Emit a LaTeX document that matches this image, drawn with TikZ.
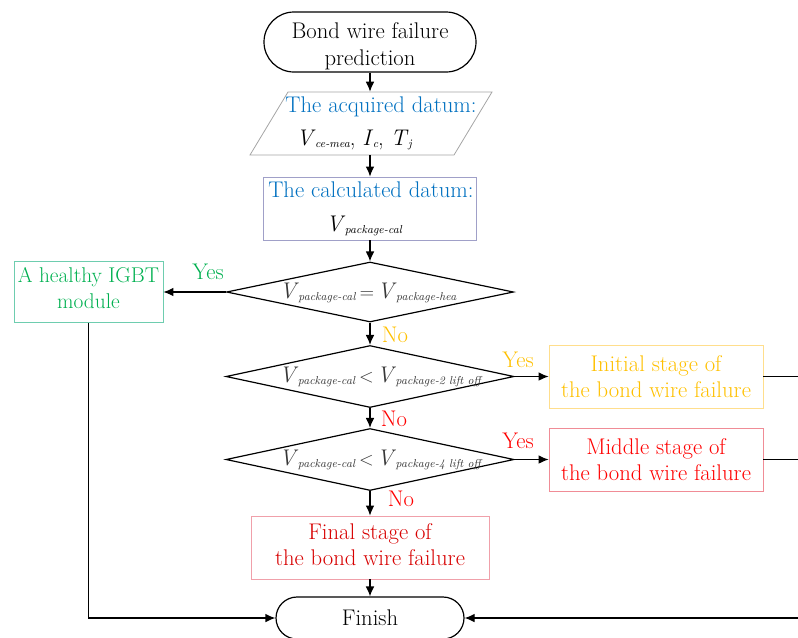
\documentclass[tikz,border=0pt]{standalone}
\usepackage{amsmath}
\usetikzlibrary{arrows.meta,shapes.geometric,shapes.misc}
\definecolor{cblue}{RGB}{0,112,192}
\definecolor{cgreen}{RGB}{0,176,80}
\definecolor{corange}{RGB}{255,192,0}
\definecolor{cred}{RGB}{255,0,0}
\definecolor{cdred}{RGB}{215,0,0}
\definecolor{cgray}{RGB}{165,165,165}
\definecolor{cpurp}{RGB}{160,160,200}
\definecolor{cteal}{RGB}{110,205,175}
\definecolor{corb}{RGB}{255,222,140}
\definecolor{credb}{RGB}{240,140,150}
\definecolor{cpinkb}{RGB}{240,160,170}
\definecolor{ctxt}{RGB}{55,55,55}
\newcommand{\vsub}[2]{\textit{#1}\kern-0.5pt\raisebox{-0.25ex}{\fontsize{8.6}{9}\selectfont\itshape #2}}
\newcommand{\rel}[1]{\hspace{3pt}{\fontsize{14}{16}\selectfont$#1$}\hspace{2.5pt}}
\begin{document}
\begin{tikzpicture}[x=0.75pt,y=-0.75pt,
  font=\fontsize{17}{19}\selectfont,
  arr/.style={-{Latex[length=7.5pt,width=6.5pt]},line width=0.9pt},
  ln/.style={line width=0.9pt},
  term/.style={rounded rectangle,draw,line width=0.9pt,inner sep=0pt,align=center},
  box/.style={rectangle,draw,line width=0.6pt,inner sep=0pt,align=center},
  dia/.style={diamond,draw,line width=0.9pt,inner sep=0pt,aspect=4.8},
  txt/.style={inner sep=0pt,align=center},
  formula/.style={text=ctxt,inner sep=0pt}]
\useasboundingbox (0,0) rectangle (798,637);

% start
\node[term,minimum width=159pt,minimum height=45pt] (start) at (370,42) {};
\node[txt] (startt) at (370,46) {Bond wire failure\\[1pt]prediction};

% acquired datum parallelogram
\node[minimum width=154pt,minimum height=47.25pt,inner sep=0pt] (acq) at (370,123.5) {};
\draw[cgray,line width=0.6pt] (288,92) -- (492,92) -- (454,155) -- (250,155) -- cycle;
\node[txt,text=cblue] (acqt) at (381,107) {The acquired datum:};
\node[txt] (acqv) at (354,140) {\vsub{V}{ce-mea}, \vsub{I}{c}, \vsub{T}{j}};

% calculated datum
\node[box,draw=cpurp,minimum width=159.75pt,minimum height=47.25pt] (calc) at (370,208.5) {};
\node[txt,text=cblue] (calct) at (371,190) {The calculated datum:};
\node[txt,text=black] (calcv) at (364,226) {\vsub{V}{package-cal}};

% decisions
\node[dia,minimum width=215.25pt,minimum height=45pt] (d1) at (370,292) {};
\node[formula] (d1t) at (368,293) {\vsub{V}{package-cal}\rel{=}\vsub{V}{package-hea}};
\node[dia,minimum width=216pt,minimum height=46.5pt] (d2) at (370,376.5) {};
\node[formula] (d2t) at (380,377) {\vsub{V}{package-cal}\rel{<}\vsub{V}{package-2 lift off}};
\node[dia,minimum width=216pt,minimum height=46.5pt] (d3) at (370,459.5) {};
\node[formula] (d3t) at (380,460) {\vsub{V}{package-cal}\rel{<}\vsub{V}{package-4 lift off}};

% result boxes
\node[box,draw=cteal,minimum width=111.75pt,minimum height=45.75pt] (healthy) at (88.5,292) {};
\node[txt,text=cgreen,font=\fontsize{16}{19}\selectfont] (healthyt) at (88.5,288)
  {A healthy IGBT\\[1pt]module};
\node[box,draw=corb,text=corange,minimum width=160.5pt,minimum height=47.25pt] (init) at (656,376.5)
  {Initial stage of\\[0pt]the bond wire failure};
\node[box,draw=credb,text=cred,minimum width=160.5pt,minimum height=47.25pt] (mid) at (656,459.5)
  {Middle stage of\\[0pt]the bond wire failure};
\node[box,draw=cpinkb,minimum width=178.5pt,minimum height=47.25pt] (final) at (370,547.5) {};
\node[txt,text=cdred] (finalt) at (370,544.5) {Final stage of\\[0pt]the bond wire failure};

% finish
\node[term,minimum width=141pt,minimum height=31.5pt] (fin) at (370,618) {Finish};

% edge coordinates
\coordinate (r1) at (798,376.5);
\coordinate (r2) at (798,459.5);
\coordinate (r3) at (798,618);

% connectors
\draw[arr] (start) -- (acq);
\draw[arr] (acq) -- (calc);
\draw[arr] (calc) -- (d1.north);
\draw[arr] (d1.west) -- (healthy.east);
\draw[arr] (d1.south) -- (d2.north);
\draw[arr] (d2.east) -- (init.west);
\draw[arr] (d2.south) -- (d3.north);
\draw[arr] (d3.east) -- (mid.west);
\draw[arr] (d3.south) -- (final.north);
\draw[arr] (final.south) -- (fin.north);
\draw[arr] (healthy.south) |- (fin.west);
\draw[ln] (init.east) -- (r1);
\draw[ln] (mid.east) -- (r2);
\draw[arr] (r3) -- (fin.east);

% labels
\node[text=cgreen] (y1) at (208,272) {Yes};
\node[text=corange] (n1) at (395,335) {No};
\node[text=corange] (y2) at (518,360) {Yes};
\node[text=cred] (n2) at (394,419) {No};
\node[text=cred] (y3) at (518,441) {Yes};
\node[text=cred] (n3) at (401,499) {No};
\end{tikzpicture}
\end{document}
